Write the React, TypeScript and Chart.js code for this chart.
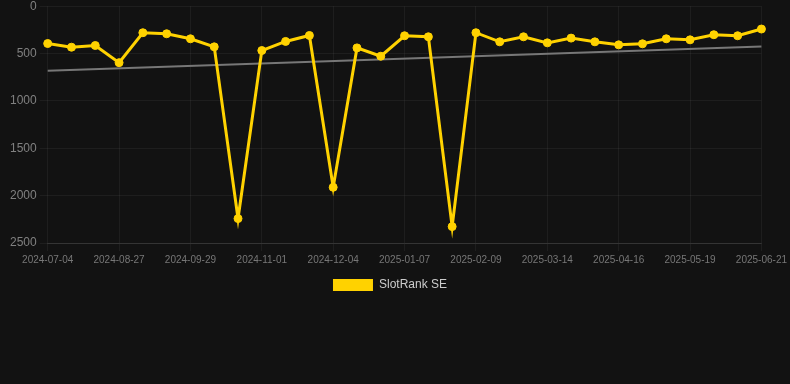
import React, { useEffect, useRef } from "react";
import { Chart, registerables } from "chart.js";

Chart.register(...registerables);

const categories = [
  "2024-07-04", "2024-07-22", "2024-08-09", "2024-08-27", "2024-09-07", "2024-09-18",
  "2024-09-29", "2024-10-10", "2024-10-21", "2024-11-01", "2024-11-12", "2024-11-23",
  "2024-12-04", "2024-12-15", "2024-12-26", "2025-01-07", "2025-01-18", "2025-01-29",
  "2025-02-09", "2025-02-20", "2025-03-03", "2025-03-14", "2025-03-25", "2025-04-05",
  "2025-04-16", "2025-04-27", "2025-05-08", "2025-05-19", "2025-05-30", "2025-06-10",
  "2025-06-21",
];

const rankValues = [
  394, 433, 415, 596, 280, 291, 344, 429, 2242, 468, 372, 309, 1912, 440, 528, 312,
  323, 2327, 280, 376, 323, 387, 337, 376, 408, 397, 344, 355, 301, 312, 241,
];

const trendStart = 681;
const trendEnd = 426;

const yTicks = [0, 500, 1000, 1500, 2000, 2500];

const shiftLegend = {
  id: "shiftLegend",
  afterLayout(chart: any) {
    if (chart.legend) {
      chart.legend.left -= 8;
      chart.legend.right -= 8;
    }
  },
};

export default function App() {
  const ref = useRef<HTMLCanvasElement | null>(null);

  useEffect(() => {
    document.body.style.margin = "0";
    document.body.style.background = "#121212";
    const trend = categories.map((_, i) =>
      i === 0 ? trendStart : i === categories.length - 1 ? trendEnd : null
    );
    const chart = new Chart(ref.current!, {
      type: "line",
      data: {
        labels: categories,
        datasets: [
          {
            label: "SlotRank SE",
            data: rankValues,
            borderColor: "#FFD200",
            backgroundColor: "#FFD200",
            borderWidth: 3,
            pointRadius: 4,
            pointHoverRadius: 4,
            pointBorderWidth: 1,
            pointBackgroundColor: "#FFD200",
            pointBorderColor: "#FFD200",
            tension: 0,
          },
          {
            label: "trend",
            data: trend,
            borderColor: "#777777",
            backgroundColor: "#777777",
            borderWidth: 2,
            pointRadius: 0,
            spanGaps: true,
          },
        ],
      },
      plugins: [shiftLegend],
      options: {
        animation: false,
        responsive: false,
        maintainAspectRatio: false,
        layout: { padding: { top: 0, bottom: 79, left: 7, right: 1 } },
        plugins: {
          legend: {
            position: "bottom",
            labels: {
              color: "#cccccc",
              boxWidth: 40,
              boxHeight: 12,
              font: { size: 12, family: "Liberation Sans, Arial, sans-serif" },
              generateLabels: (c) =>
                Chart.defaults.plugins.legend.labels
                  .generateLabels(c)
                  .filter((it) => it.text !== "trend")
                  .map((it) => ({ ...it, lineWidth: 0 })),
            },
          },
          tooltip: { enabled: false },
        },
        scales: {
          x: {
            grid: { color: "rgba(255,255,255,0.05)" },
            border: { color: "rgba(255,255,255,0.1)" },
            ticks: {
              autoSkip: false,
              maxRotation: 0,
              color: "#777777",
              font: { size: 10, family: "Liberation Sans, Arial, sans-serif" },
              callback: (_v, i) => (i % 3 === 0 ? categories[i] : null),
            },
          },
          y: {
            reverse: true,
            min: 0,
            max: 2500,
            grid: { color: "rgba(255,255,255,0.05)" },
            border: { display: false },
            afterBuildTicks: (axis) => {
              axis.ticks = yTicks.map((v) => ({ value: v }));
            },
            ticks: {
              color: "#808080",
              font: { size: 12, family: "Liberation Sans, Arial, sans-serif" },
              callback: (v) => String(v),
            },
          },
        },
      },
    });
    return () => chart.destroy();
  }, []);

  return (
    <div style={{ width: 790, height: 384, background: "#121212", overflow: "hidden" }}>
      <canvas
        ref={ref}
        width={790}
        height={384}
        style={{ display: "block", marginTop: -4 }}
      />
    </div>
  );
}
